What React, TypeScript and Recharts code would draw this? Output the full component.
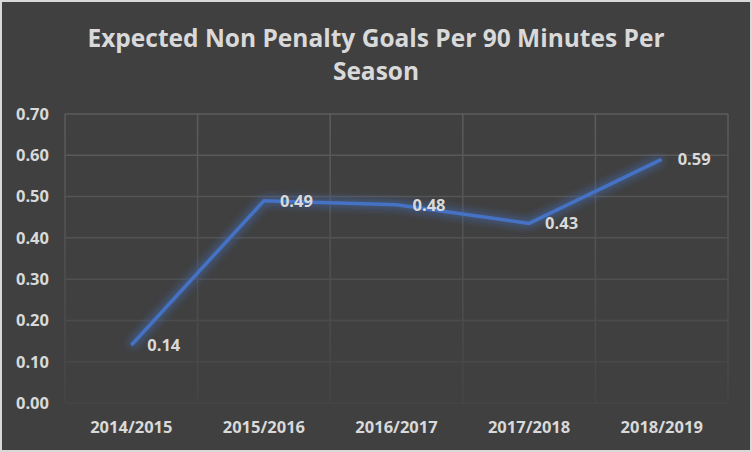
import { CartesianGrid, LabelList, Line, LineChart, XAxis, YAxis } from 'recharts'

document.body.style.margin = '0'

const seasons = ['2014/2015', '2015/2016', '2016/2017', '2017/2018', '2018/2019']
const xgPer90 = [0.14, 0.49, 0.48, 0.435, 0.59]
const yTicks = [0, 0.1, 0.2, 0.3, 0.4, 0.5, 0.6, 0.7]

const data = seasons.map((season, i) => ({ season, xg: xgPer90[i] }))

const TEXT = '#d9d9d9'
const FONT = '"Open Sans", "Liberation Sans", sans-serif'

export default function App() {
  return (
    <div
      style={{
        position: 'relative',
        width: 752,
        height: 452,
        boxSizing: 'border-box',
        border: '2px solid #d9d9d9',
        background: '#404040',
        fontFamily: FONT,
      }}
    >
      <div
        style={{
          position: 'absolute',
          top: 19,
          left: 0,
          width: '100%',
          textAlign: 'center',
          color: TEXT,
          fontSize: 24.5,
          fontWeight: 700,
          lineHeight: '33px',
        }}
      >
        Expected Non Penalty Goals Per 90 Minutes Per
        <br />
        Season
      </div>
      <div style={{ position: 'absolute', top: -2, left: -2 }}>
        <LineChart
          width={752}
          height={452}
          data={data}
          margin={{ top: 114, right: 24, bottom: 0, left: 0 }}
        >
          <defs>
            <linearGradient id="gridFade" gradientUnits="userSpaceOnUse" x1="0" y1="114" x2="0" y2="403">
              <stop offset="0%" stopColor="#5c5c5c" />
              <stop offset="100%" stopColor="#454545" />
            </linearGradient>
            <filter id="glow" x="-30%" y="-30%" width="160%" height="160%">
              <feGaussianBlur in="SourceGraphic" stdDeviation="5" result="blur" />
              <feComponentTransfer in="blur" result="glowA">
                <feFuncA type="linear" slope="0.7" />
              </feComponentTransfer>
              <feMerge>
                <feMergeNode in="glowA" />
                <feMergeNode in="glowA" />
                <feMergeNode in="SourceGraphic" />
              </feMerge>
            </filter>
          </defs>
          <CartesianGrid
            stroke="url(#gridFade)"
            strokeWidth={1.5}
            verticalCoordinatesGenerator={({ offset }: any) =>
              seasons.map((_, i) => offset.left + (i * offset.width) / seasons.length).concat(offset.left + offset.width)
            }
          />
          <XAxis
            dataKey="season"
            scale="band"
            axisLine={false}
            tickLine={false}
            height={49}
            tickMargin={12}
            tick={{ fill: TEXT, fontSize: 16.5, fontWeight: 700, fontFamily: FONT }}
          />
          <YAxis
            domain={[0, 0.7]}
            ticks={yTicks}
            width={65}
            axisLine={false}
            tickLine={false}
            tickMargin={10}
            tickFormatter={(v: number) => v.toFixed(2)}
            tick={{ fill: TEXT, fontSize: 16.5, fontWeight: 700, fontFamily: FONT }}
          />
          <Line
            type="linear"
            dataKey="xg"
            stroke="#4472c4"
            strokeWidth={3.5}
            dot={false}
            activeDot={false}
            filter="url(#glow)"
            isAnimationActive={false}
          >
            <LabelList
              dataKey="xg"
              position="right"
              offset={16}
              formatter={(v: any) => Number(v).toFixed(2)}
              style={{ fill: TEXT, fontSize: 16.5, fontWeight: 700, fontFamily: FONT }}
            />
          </Line>
        </LineChart>
      </div>
    </div>
  )
}
